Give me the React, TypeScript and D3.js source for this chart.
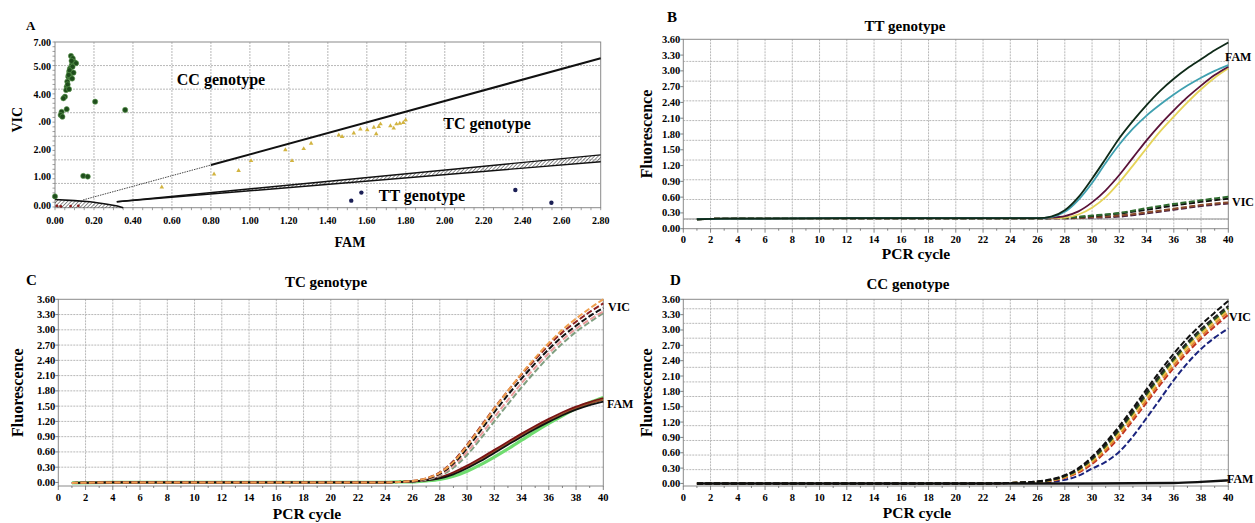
import React from "react";
import * as d3 from "d3";

const FONT = "'Liberation Serif', 'Times New Roman', serif";

type Pt = [number, number];
type Curve = { color: string; dashed?: boolean; width?: number; points: Pt[] };

// ---------- Panel A: allelic discrimination (FAM vs VIC) ----------
const famTicksA = [0, 0.2, 0.4, 0.6, 0.8, 1.0, 1.2, 1.4, 1.6, 1.8, 2.0, 2.2, 2.4, 2.6, 2.8];
const vicGridA = [1, 2, 3, 4, 5, 6];
const vicTickLabelsA = ["7.00", "5.00", "4.00", ".00", "2.00", "1.00", "0.00"];
const vicTickAtA = [7, 5.96, 4.78, 3.62, 2.46, 1.29, 0.06];

const ccPoints: Pt[] = [
  [0.082, 6.41], [0.091, 6.31], [0.098, 6.16], [0.108, 6.1], [0.086, 6.02], [0.077, 5.88],
  [0.073, 5.74], [0.081, 5.67], [0.068, 5.53], [0.063, 5.32], [0.06, 5.1], [0.057, 4.96],
  [0.051, 4.68], [0.043, 4.61], [0.06, 4.15], [0.034, 4.04], [0.029, 3.9], [0.038, 3.83],
  [0.085, 6.2], [0.09, 5.95], [0.075, 5.8], [0.095, 5.7], [0.08, 5.5], [0.07, 5.6],
  [0.088, 5.45], [0.065, 5.2], [0.072, 5.0], [0.206, 4.47], [0.36, 4.12],
  [0.145, 1.32], [0.168, 1.29], [0.0, 0.45],
];
const tcPoints: Pt[] = [
  [0.548, 0.84], [0.816, 1.39], [0.942, 1.54], [1.006, 1.96], [1.182, 2.42], [1.216, 1.96],
  [1.276, 2.47], [1.314, 2.7], [1.456, 3.05], [1.473, 2.98], [1.533, 3.13], [1.567, 3.3],
  [1.602, 3.27], [1.636, 3.38], [1.648, 3.1], [1.661, 3.41], [1.67, 3.52], [1.721, 3.44],
  [1.738, 3.34], [1.752, 3.52], [1.769, 3.55], [1.787, 3.58], [1.799, 3.69],
];
const ttPoints: Pt[] = [[1.52, 0.27], [1.572, 0.61], [2.362, 0.72], [2.547, 0.18]];
const blankPoints: Pt[] = [[0.01, 0.05], [0.03, 0.03], [0.08, 0.04], [0.12, 0.05]];

const upperCut: Pt[] = [[0.144, 0.3], [0.8, 1.78], [2.8, 6.31]];
const lowerCutTop: Pt[] = [[0.317, 0.22], [2.8, 2.21]];
const lowerCutBottom: Pt[] = [[0.317, 0.22], [2.8, 1.92]];
const blankZone: Pt[] = [[0, 0.32], [0.1, 0.27], [0.18, 0.22], [0.26, 0.13], [0.32, 0.04], [0.35, -0.03], [0, -0.03]];

// ---------- Amplification plots ----------
const cycleTicks = [0, 2, 4, 6, 8, 10, 12, 14, 16, 18, 20, 22, 24, 26, 28, 30, 32, 34, 36, 38, 40];
const fluorTicks = [0, 0.3, 0.6, 0.9, 1.2, 1.5, 1.8, 2.1, 2.4, 2.7, 3.0, 3.3, 3.6];

// B: TT genotype
const gridB = [0.18, 0.555, 0.93, 1.305, 1.68, 2.055, 2.43, 2.805, 3.18];
const baseB: Pt[] = [[1, 0.18], [3, 0.19], [12, 0.2], [24, 0.2], [26, 0.2]];
const bFamBlack: Pt[] = [...baseB, [27, 0.23], [28, 0.35], [29, 0.6], [30, 0.95], [31, 1.33], [32, 1.72], [33, 2.05], [34, 2.35], [35, 2.62], [36, 2.85], [37, 3.05], [38, 3.22], [39, 3.39], [40, 3.54]];
const bFamTeal: Pt[] = [...baseB, [27, 0.22], [28, 0.32], [29, 0.55], [30, 0.87], [31, 1.25], [32, 1.6], [33, 1.9], [34, 2.15], [35, 2.36], [36, 2.55], [37, 2.72], [38, 2.87], [39, 3.0], [40, 3.11]];
const bFamPurple: Pt[] = [...baseB, [27, 0.21], [28, 0.24], [29, 0.33], [30, 0.5], [31, 0.73], [32, 1.02], [33, 1.35], [34, 1.68], [35, 1.98], [36, 2.25], [37, 2.5], [38, 2.72], [39, 2.92], [40, 3.08]];
const bFamYellow: Pt[] = [...baseB, [27, 0.2], [28, 0.21], [29, 0.27], [30, 0.4], [31, 0.6], [32, 0.88], [33, 1.2], [34, 1.53], [35, 1.85], [36, 2.13], [37, 2.4], [38, 2.65], [39, 2.87], [40, 3.05]];
const bVicGreen: Pt[] = [...baseB, [28, 0.21], [30, 0.25], [32, 0.3], [34, 0.39], [36, 0.47], [38, 0.54], [40, 0.61]];
const bVicBlack: Pt[] = [...baseB, [28, 0.21], [30, 0.24], [32, 0.29], [34, 0.36], [36, 0.44], [38, 0.51], [40, 0.57]];
const bVicBrown: Pt[] = [...baseB, [28, 0.2], [30, 0.22], [32, 0.25], [34, 0.31], [36, 0.38], [38, 0.45], [40, 0.5]];
const bVicPurple: Pt[] = [...baseB, [28, 0.2], [30, 0.21], [32, 0.23], [34, 0.29], [36, 0.36], [38, 0.43], [40, 0.48]];

// C: TC genotype
const gridC = [0.3, 0.6, 0.9, 1.2, 1.5, 1.8, 2.1, 2.4, 2.7, 3.0, 3.3];
const baseC: Pt[] = [[1, -0.01], [4, 0.0], [24, 0.0], [25, 0.01]];
const cVicOrange: Pt[] = [...baseC, [26, 0.03], [27, 0.08], [28, 0.19], [29, 0.4], [30, 0.72], [31, 1.08], [32, 1.45], [33, 1.8], [34, 2.14], [35, 2.45], [36, 2.74], [37, 3.0], [38, 3.22], [39, 3.42], [40, 3.6]];
const cVicRed: Pt[] = [...baseC, [26, 0.03], [27, 0.08], [28, 0.2], [29, 0.42], [30, 0.74], [31, 1.1], [32, 1.46], [33, 1.8], [34, 2.12], [35, 2.42], [36, 2.7], [37, 2.95], [38, 3.16], [39, 3.35], [40, 3.52]];
const cVicBlack: Pt[] = [...baseC, [26, 0.02], [27, 0.07], [28, 0.17], [29, 0.37], [30, 0.67], [31, 1.02], [32, 1.38], [33, 1.72], [34, 2.04], [35, 2.34], [36, 2.62], [37, 2.87], [38, 3.08], [39, 3.27], [40, 3.43]];
const cVicPink: Pt[] = [...baseC, [26, 0.02], [27, 0.06], [28, 0.15], [29, 0.33], [30, 0.6], [31, 0.93], [32, 1.28], [33, 1.62], [34, 1.95], [35, 2.26], [36, 2.54], [37, 2.8], [38, 3.02], [39, 3.2], [40, 3.36]];
const cVicGrey: Pt[] = [...baseC, [26, 0.02], [27, 0.05], [28, 0.13], [29, 0.29], [30, 0.54], [31, 0.86], [32, 1.2], [33, 1.54], [34, 1.87], [35, 2.18], [36, 2.47], [37, 2.73], [38, 2.96], [39, 3.15], [40, 3.33]];
const cFamGreen: Pt[] = [...baseC, [26, 0.01], [27, 0.03], [28, 0.06], [29, 0.12], [30, 0.22], [31, 0.35], [32, 0.5], [33, 0.66], [34, 0.83], [35, 1.0], [36, 1.16], [37, 1.31], [38, 1.45], [39, 1.57], [40, 1.67]];
const cFamRed: Pt[] = [...baseC, [26, 0.02], [27, 0.05], [28, 0.1], [29, 0.2], [30, 0.33], [31, 0.48], [32, 0.64], [33, 0.8], [34, 0.96], [35, 1.11], [36, 1.25], [37, 1.38], [38, 1.49], [39, 1.58], [40, 1.66]];
const cFamBrown: Pt[] = [...baseC, [26, 0.02], [27, 0.04], [28, 0.09], [29, 0.18], [30, 0.3], [31, 0.45], [32, 0.61], [33, 0.77], [34, 0.93], [35, 1.08], [36, 1.22], [37, 1.35], [38, 1.46], [39, 1.55], [40, 1.63]];
const cFamBlack: Pt[] = [...baseC, [26, 0.02], [27, 0.04], [28, 0.08], [29, 0.16], [30, 0.28], [31, 0.42], [32, 0.58], [33, 0.74], [34, 0.9], [35, 1.05], [36, 1.19], [37, 1.32], [38, 1.43], [39, 1.52], [40, 1.59]];

// D: CC genotype
const gridD = [0.27, 0.555, 0.84, 1.13, 1.41, 1.7, 1.985, 2.27, 2.555, 2.84, 3.13, 3.415];
const baseD: Pt[] = [[1, 0.0], [12, 0.0], [22, 0.0], [24, 0.01]];
const dVicBlack: Pt[] = [...baseD, [26, 0.04], [27, 0.08], [28, 0.16], [29, 0.3], [30, 0.52], [31, 0.8], [32, 1.12], [33, 1.47], [34, 1.84], [35, 2.2], [36, 2.54], [37, 2.84], [38, 3.1], [39, 3.34], [40, 3.57]];
const dVicBlack2: Pt[] = [...baseD, [26, 0.04], [27, 0.07], [28, 0.15], [29, 0.28], [30, 0.49], [31, 0.76], [32, 1.07], [33, 1.42], [34, 1.78], [35, 2.13], [36, 2.46], [37, 2.76], [38, 3.02], [39, 3.25], [40, 3.47]];
const dVicGreen: Pt[] = [...baseD, [26, 0.03], [27, 0.07], [28, 0.14], [29, 0.27], [30, 0.47], [31, 0.73], [32, 1.04], [33, 1.38], [34, 1.74], [35, 2.09], [36, 2.42], [37, 2.72], [38, 2.98], [39, 3.21], [40, 3.43]];
const dVicYellow: Pt[] = [...baseD, [26, 0.03], [27, 0.06], [28, 0.13], [29, 0.25], [30, 0.44], [31, 0.7], [32, 1.0], [33, 1.34], [34, 1.69], [35, 2.04], [36, 2.37], [37, 2.67], [38, 2.93], [39, 3.17], [40, 3.4]];
const dVicOrange: Pt[] = [...baseD, [26, 0.03], [27, 0.06], [28, 0.12], [29, 0.23], [30, 0.41], [31, 0.66], [32, 0.95], [33, 1.28], [34, 1.63], [35, 1.98], [36, 2.31], [37, 2.61], [38, 2.88], [39, 3.12], [40, 3.35]];
const dVicRed: Pt[] = [...baseD, [26, 0.02], [27, 0.05], [28, 0.11], [29, 0.21], [30, 0.38], [31, 0.62], [32, 0.9], [33, 1.23], [34, 1.58], [35, 1.93], [36, 2.26], [37, 2.56], [38, 2.83], [39, 3.07], [40, 3.3]];
const dVicNavy: Pt[] = [...baseD, [26, 0.01], [27, 0.03], [28, 0.07], [29, 0.15], [30, 0.29], [31, 0.42], [32, 0.62], [33, 0.92], [34, 1.28], [35, 1.65], [36, 2.02], [37, 2.35], [38, 2.63], [39, 2.85], [40, 3.03]];
const dFamBlack: Pt[] = [[1, 0.0], [30, 0.0], [36, 0.01], [38, 0.03], [40, 0.06]];

type Box = { left: number; right: number; top: number; bottom: number };

function ScatterPanel() {
  const box: Box = { left: 55, right: 600.7, top: 42, bottom: 207.7 };
  const x = d3.scaleLinear().domain([0, 2.8]).range([box.left, box.right]);
  const y = d3.scaleLinear().domain([-0.03, 7]).range([box.bottom, box.top]);
  const line = d3.line<Pt>().x((d) => x(d[0])).y((d) => y(d[1]));
  const area = d3
    .area<number>()
    .x((_, i) => x(lowerCutTop[i][0]))
    .y0((_, i) => y(lowerCutBottom[i][1]))
    .y1((_, i) => y(lowerCutTop[i][1]));
  const tri = d3.symbol(d3.symbolTriangle, 9)() as string;

  return (
    <g>
      <text x={26} y={30} fontSize={13} fontWeight="bold">A</text>
      {famTicksA.slice(1, -1).map((t) => (
        <line key={t} x1={x(t)} x2={x(t)} y1={box.top} y2={box.bottom} stroke="#b8b8b8" strokeDasharray="2,1" />
      ))}
      {vicGridA.map((t) => (
        <line key={t} x1={box.left} x2={box.right} y1={y(t)} y2={y(t)} stroke="#b8b8b8" strokeDasharray="2,1" />
      ))}
      <rect x={box.left} y={box.top} width={box.right - box.left} height={box.bottom - box.top} fill="none" stroke="#8a8a8a" />
      {x.ticks(56).map((t) => (
        <line key={"mx" + t} x1={x(t)} x2={x(t)} y1={box.bottom} y2={box.bottom + 2.5} stroke="#777" strokeWidth={0.7} />
      ))}
      {y.ticks(28).map((t) => (
        <line key={"my" + t} x1={box.left - 2.5} x2={box.left} y1={y(t)} y2={y(t)} stroke="#777" strokeWidth={0.7} />
      ))}
      {/* cluster boundaries */}
      <path d={(line(blankZone) as string) + "Z"} fill="url(#hatch)" stroke="none" />
      <path d={line(blankZone.slice(0, 6)) as string} fill="none" stroke="#111" strokeWidth={1.6} />
      <path d={area(lowerCutTop.map((_, i) => i)) as string} fill="url(#hatch)" />
      <path d={line(lowerCutTop) as string} fill="none" stroke="#111" strokeWidth={1.4} />
      <path d={line(lowerCutBottom) as string} fill="none" stroke="#111" strokeWidth={1.4} />
      <path d={line(upperCut.slice(0, 2)) as string} fill="none" stroke="#333" strokeWidth={0.9} strokeDasharray="1.5,1" />
      <path d={line(upperCut.slice(1)) as string} fill="none" stroke="#111" strokeWidth={2} />
      {blankPoints.map((d, i) => (
        <circle key={"b" + i} cx={x(d[0])} cy={y(d[1])} r={1.4} fill="#8b1a1a" />
      ))}
      {ccPoints.map((d, i) => (
        <circle key={"c" + i} cx={x(d[0])} cy={y(d[1])} r={2.6} fill="#1f4d1c" stroke="#5e9c50" strokeWidth={0.6} />
      ))}
      {tcPoints.map((d, i) => (
        <path key={"t" + i} d={tri} transform={`translate(${x(d[0])},${y(d[1])})`} fill="#d2b441" />
      ))}
      {ttPoints.map((d, i) => (
        <circle key={"tt" + i} cx={x(d[0])} cy={y(d[1])} r={2.2} fill="#1b1f55" />
      ))}
      {famTicksA.map((t) => (
        <text key={"xl" + t} x={x(t)} y={box.bottom + 16} fontSize={10} fontWeight="bold" textAnchor="middle">
          {t.toFixed(2)}
        </text>
      ))}
      {vicTickLabelsA.map((lab, i) => (
        <text key={"yl" + i} x={box.left - 4} y={y(vicTickAtA[i]) + 3.5} fontSize={10} fontWeight="bold" textAnchor="end">
          {lab}
        </text>
      ))}
      <text transform={`translate(22,${y(3.7)}) rotate(-90)`} fontSize={14} fontWeight="bold" textAnchor="middle">VIC</text>
      <text x={350} y={247} fontSize={14} fontWeight="bold" textAnchor="middle">FAM</text>
      <text x={221} y={85} fontSize={16} fontWeight="bold" textAnchor="middle">CC genotype</text>
      <text x={487} y={129} fontSize={16} fontWeight="bold" textAnchor="middle">TC genotype</text>
      <text x={422} y={201} fontSize={16} fontWeight="bold" textAnchor="middle">TT genotype</text>
    </g>
  );
}

type AmpProps = {
  box: Box;
  yMin: number;
  gridY: number[];
  curves: Curve[];
  letter: string;
  letterPos: Pt;
  title: string;
  titlePos: Pt;
  yLabelX: number;
  xLabelPos: Pt;
  dyes: { text: string; x: number; y: number }[];
  threshold?: number;
};

function AmpPanel(p: AmpProps) {
  const { box } = p;
  const x = d3.scaleLinear().domain([0, 40]).range([box.left, box.right]);
  const y = d3.scaleLinear().domain([p.yMin, 3.6]).range([box.bottom, box.top]);
  const line = d3.line<Pt>().x((d) => x(d[0])).y((d) => y(d[1])).curve(d3.curveMonotoneX);
  const midY = (box.top + box.bottom) / 2;
  return (
    <g>
      <text x={p.letterPos[0]} y={p.letterPos[1]} fontSize={15} fontWeight="bold">{p.letter}</text>
      <text x={p.titlePos[0]} y={p.titlePos[1]} fontSize={15} fontWeight="bold" textAnchor="middle">{p.title}</text>
      {cycleTicks.slice(1, -1).map((t) => (
        <line key={"gx" + t} x1={x(t)} x2={x(t)} y1={box.top} y2={box.bottom} stroke="#b8b8b8" strokeDasharray="2,1" />
      ))}
      {p.gridY.map((t) => (
        <line key={"gy" + t} x1={box.left} x2={box.right} y1={y(t)} y2={y(t)} stroke="#b8b8b8" strokeDasharray="2,1" />
      ))}
      {p.threshold !== undefined && (
        <line x1={box.left} x2={box.right} y1={y(p.threshold)} y2={y(p.threshold)} stroke="#999" strokeWidth={1} />
      )}
      <rect x={box.left} y={box.top} width={box.right - box.left} height={box.bottom - box.top} fill="none" stroke="#8a8a8a" />
      {x.ticks(40).map((t) => (
        <line key={"tx" + t} x1={x(t)} x2={x(t)} y1={box.bottom} y2={box.bottom + (t % 2 === 0 ? 4 : 2)} stroke="#666" strokeWidth={0.8} />
      ))}
      {fluorTicks.map((t) => (
        <line key={"ty" + t} x1={box.left - 3} x2={box.left} y1={y(t)} y2={y(t)} stroke="#666" strokeWidth={0.8} />
      ))}
      {p.curves.map((c, i) => (
        <path
          key={"c" + i}
          d={line(c.points) as string}
          fill="none"
          stroke={c.color}
          strokeWidth={c.width ?? (c.dashed ? 2 : 1.8)}
          strokeDasharray={c.dashed ? "6,2.5" : undefined}
        />
      ))}
      {cycleTicks.map((t) => (
        <text key={"xl" + t} x={x(t)} y={box.bottom + 14.5} fontSize={10.5} fontWeight="bold" textAnchor="middle">{t}</text>
      ))}
      {fluorTicks.map((t) => (
        <text key={"yl" + t} x={box.left - 3} y={y(t) + 3.5} fontSize={10.5} fontWeight="bold" textAnchor="end">{t.toFixed(2)}</text>
      ))}
      <text transform={`translate(${p.yLabelX},${midY}) rotate(-90)`} fontSize={16} fontWeight="bold" textAnchor="middle">
        Fluorescence
      </text>
      <text x={p.xLabelPos[0]} y={p.xLabelPos[1]} fontSize={15.5} fontWeight="bold" textAnchor="middle">PCR cycle</text>
      {p.dyes.map((d) => (
        <text key={d.text} x={d.x} y={d.y} fontSize={12} fontWeight="bold">{d.text}</text>
      ))}
    </g>
  );
}

export default function App() {
  return (
    <svg
      width={1255}
      height={523}
      fontFamily={FONT}
      style={{ position: "absolute", left: 0, top: 0, background: "#fff" }}
    >
      <defs>
        <pattern id="hatch" width={2.6} height={2.6} patternUnits="userSpaceOnUse" patternTransform="rotate(45)">
          <line x1={0} y1={0} x2={0} y2={2.6} stroke="#222" strokeWidth={1} />
        </pattern>
      </defs>
      <ScatterPanel />
      <AmpPanel
        box={{ left: 683.3, right: 1228.3, top: 39.3, bottom: 228.7 }}
        yMin={0}
        gridY={gridB}
        threshold={0.185}
        letter="B"
        letterPos={[667, 22]}
        title="TT genotype"
        titlePos={[905, 31]}
        yLabelX={652}
        xLabelPos={[916, 259]}
        dyes={[{ text: "FAM", x: 1225, y: 61 }, { text: "VIC", x: 1232, y: 206 }]}
        curves={[
          { color: "#4a2040", dashed: true, points: bVicPurple },
          { color: "#8b4a2a", dashed: true, points: bVicBrown },
          { color: "#111", dashed: true, points: bVicBlack },
          { color: "#2e6b2e", dashed: true, points: bVicGreen },
          { color: "#e6d45a", points: bFamYellow },
          { color: "#5a1238", points: bFamPurple },
          { color: "#3fa0b0", points: bFamTeal },
          { color: "#0e2a18", points: bFamBlack },
        ]}
      />
      <AmpPanel
        box={{ left: 58.3, right: 603.3, top: 299.3, bottom: 486 }}
        yMin={-0.07}
        gridY={gridC}
        letter="C"
        letterPos={[26, 285]}
        title="TC genotype"
        titlePos={[326, 287]}
        yLabelX={23}
        xLabelPos={[307, 519]}
        dyes={[{ text: "VIC", x: 608, y: 311 }, { text: "FAM", x: 607, y: 408 }]}
        curves={[
          { color: "#6fdc6f", width: 3.2, points: cFamGreen },
          { color: "#a0522d", points: cFamBrown },
          { color: "#7a1414", points: cFamRed },
          { color: "#111", points: cFamBlack },
          { color: "#7f9f80", dashed: true, points: cVicGrey },
          { color: "#e89a9a", dashed: true, points: cVicPink },
          { color: "#111", dashed: true, points: cVicBlack },
          { color: "#8b2020", dashed: true, points: cVicRed },
          { color: "#f0a050", dashed: true, points: cVicOrange },
        ]}
      />
      <AmpPanel
        box={{ left: 683.3, right: 1228.3, top: 299.3, bottom: 486 }}
        yMin={-0.05}
        gridY={gridD}
        letter="D"
        letterPos={[670, 285]}
        title="CC genotype"
        titlePos={[908, 289]}
        yLabelX={652}
        xLabelPos={[917, 518]}
        dyes={[{ text: "VIC", x: 1229, y: 321 }, { text: "FAM", x: 1227, y: 483 }]}
        curves={[
          { color: "#1a237e", dashed: true, points: dVicNavy },
          { color: "#c03020", dashed: true, points: dVicRed },
          { color: "#e08030", dashed: true, points: dVicOrange },
          { color: "#e8c040", dashed: true, points: dVicYellow },
          { color: "#2d5a1e", dashed: true, points: dVicGreen },
          { color: "#222", dashed: true, points: dVicBlack2 },
          { color: "#111", dashed: true, points: dVicBlack },
          { color: "#111", width: 2.4, points: dFamBlack },
        ]}
      />
    </svg>
  );
}
